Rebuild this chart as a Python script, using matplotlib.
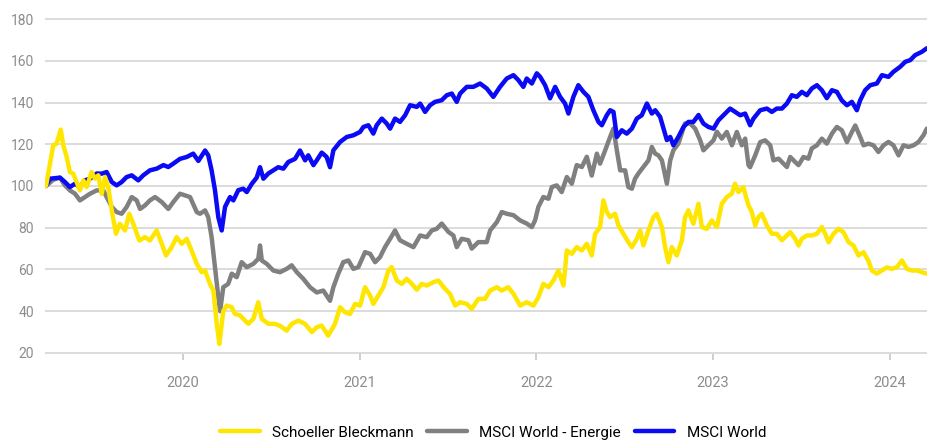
"""Index chart: Schoeller Bleckmann vs MSCI World and MSCI World Energy (start = 100)."""

import matplotlib

matplotlib.use("Agg")
import matplotlib.pyplot as plt

plt.rcParams["font.family"] = ["Roboto", "DejaVu Sans"]

# time axis in decimal years
sb_t = [2019.225, 2019.266, 2019.285, 2019.308, 2019.323, 2019.342, 2019.360, 2019.379, 2019.417, 2019.436,
        2019.455, 2019.483, 2019.502, 2019.521, 2019.540, 2019.559, 2019.577, 2019.597, 2019.621, 2019.643,
        2019.672, 2019.696, 2019.719, 2019.753, 2019.785, 2019.813, 2019.851, 2019.880, 2019.904, 2019.936,
        2019.964, 2019.993, 2020.021, 2020.049, 2020.078, 2020.106, 2020.125, 2020.153, 2020.172, 2020.191,
        2020.206, 2020.228, 2020.247, 2020.276, 2020.294, 2020.323, 2020.351, 2020.370, 2020.398, 2020.426,
        2020.446, 2020.483, 2020.521, 2020.549, 2020.587, 2020.615, 2020.653, 2020.691, 2020.729, 2020.757,
        2020.785, 2020.822, 2020.860, 2020.889, 2020.917, 2020.945, 2020.974, 2021.002, 2021.030, 2021.059,
        2021.077, 2021.105, 2021.134, 2021.162, 2021.181, 2021.210, 2021.238, 2021.266, 2021.295, 2021.323,
        2021.351, 2021.379, 2021.417, 2021.445, 2021.483, 2021.511, 2021.540, 2021.568, 2021.606, 2021.634,
        2021.671, 2021.709, 2021.738, 2021.776, 2021.804, 2021.841, 2021.870, 2021.908, 2021.945, 2021.983,
        2022.011, 2022.039, 2022.068, 2022.096, 2022.124, 2022.153, 2022.172, 2022.200, 2022.228, 2022.257,
        2022.285, 2022.313, 2022.332, 2022.360, 2022.379, 2022.398, 2022.417, 2022.445, 2022.464, 2022.492,
        2022.520, 2022.540, 2022.568, 2022.587, 2022.605, 2022.634, 2022.662, 2022.681, 2022.710, 2022.728,
        2022.747, 2022.766, 2022.794, 2022.823, 2022.841, 2022.860, 2022.888, 2022.917, 2022.936, 2022.964,
        2022.993, 2023.021, 2023.049, 2023.077, 2023.106, 2023.124, 2023.143, 2023.171, 2023.181, 2023.200,
        2023.219, 2023.238, 2023.256, 2023.275, 2023.304, 2023.332, 2023.360, 2023.389, 2023.417, 2023.436,
        2023.464, 2023.483, 2023.502, 2023.530, 2023.558, 2023.587, 2023.615, 2023.634, 2023.653, 2023.681,
        2023.709, 2023.737, 2023.766, 2023.794, 2023.822, 2023.851, 2023.879, 2023.898, 2023.926, 2023.955,
        2023.983, 2024.011, 2024.040, 2024.068, 2024.096, 2024.124, 2024.153, 2024.181, 2024.209]
sb_v = [100, 119.5, 120.3, 127, 119.5, 113.9, 106.7, 105.9, 97.9, 102.7,
        99.5, 106.7, 103.5, 105.1, 96.3, 104.3, 99.5, 88.3, 77.1, 81.9,
        78.7, 86.7, 81.9, 73.9, 75.5, 73.9, 78.7, 72.3, 66.7, 70.7,
        75.5, 72.3, 74.7, 69, 62.7, 58.7, 59.5, 53, 50, 34,
        24.3, 40, 42.7, 41.9, 38.7, 38, 35.5, 34, 36.3, 44.3,
        36.3, 34, 33.9, 33, 30.7, 33.9, 35.5, 33.9, 30, 32.3,
        33.1, 28.3, 33.9, 41.9, 39.5, 38.7, 43.5, 42.7, 51.5, 47.5,
        43.5, 47.5, 51.5, 59.5, 61.1, 54.7, 53.1, 55.5, 53.1, 50.3,
        53.1, 52.3, 53.9, 54.7, 50.7, 48.3, 42.7, 44.3, 43.5, 41.1,
        45.9, 45.9, 49.9, 51.5, 49.9, 51.5, 48.3, 42.7, 44.3, 42.7,
        46.7, 53.1, 51.5, 54.7, 59.5, 52.3, 69.1, 67.5, 70.7, 69.1,
        72.3, 66.7, 77.1, 80.3, 93.1, 87.5, 85.1, 86.7, 81.1, 77.1,
        73.1, 70.7, 74.7, 78.7, 71.5, 78.7, 85.1, 86.7, 80.3, 70.7,
        63.5, 70.7, 66.7, 73.9, 85.1, 88.3, 81.9, 91.5, 80.3, 79.5,
        83.5, 80.3, 91.5, 94.7, 96.3, 101.1, 97.1, 99.5, 96.3, 90.7,
        87.5, 81, 85.1, 86.7, 81.1, 77.1, 77.1, 74, 76.3, 77.9,
        74.7, 71.5, 74.7, 76.3, 76.3, 77.1, 80.3, 77.1, 73, 77.1,
        79.5, 77.9, 73.1, 71.5, 66.7, 68.3, 64, 59.5, 58, 59.5,
        61, 60.3, 61.1, 64.3, 60.3, 59.5, 59.5, 58.7, 58]

energy_t = [2019.225, 2019.266, 2019.304, 2019.332, 2019.360, 2019.389, 2019.417, 2019.445, 2019.474, 2019.512,
            2019.549, 2019.568, 2019.597, 2019.625, 2019.653, 2019.681, 2019.710, 2019.738, 2019.757, 2019.785,
            2019.813, 2019.842, 2019.880, 2019.917, 2019.945, 2019.983, 2020.040, 2020.078, 2020.096, 2020.125,
            2020.143, 2020.162, 2020.181, 2020.200, 2020.210, 2020.228, 2020.256, 2020.276, 2020.304, 2020.332,
            2020.361, 2020.398, 2020.426, 2020.436, 2020.446, 2020.474, 2020.511, 2020.549, 2020.587, 2020.615,
            2020.644, 2020.681, 2020.719, 2020.757, 2020.794, 2020.832, 2020.851, 2020.879, 2020.907, 2020.936,
            2020.964, 2020.992, 2021.030, 2021.059, 2021.087, 2021.115, 2021.143, 2021.172, 2021.200, 2021.228,
            2021.266, 2021.304, 2021.342, 2021.379, 2021.408, 2021.436, 2021.464, 2021.502, 2021.530, 2021.549,
            2021.577, 2021.615, 2021.634, 2021.671, 2021.719, 2021.738, 2021.776, 2021.804, 2021.832, 2021.870,
            2021.908, 2021.945, 2021.974, 2021.992, 2022.011, 2022.039, 2022.068, 2022.087, 2022.115, 2022.143,
            2022.172, 2022.200, 2022.228, 2022.257, 2022.285, 2022.313, 2022.342, 2022.360, 2022.389, 2022.417,
            2022.436, 2022.455, 2022.474, 2022.502, 2022.520, 2022.540, 2022.558, 2022.577, 2022.605, 2022.634,
            2022.653, 2022.672, 2022.690, 2022.710, 2022.738, 2022.757, 2022.775, 2022.803, 2022.841, 2022.870,
            2022.898, 2022.926, 2022.945, 2022.973, 2023.002, 2023.021, 2023.049, 2023.077, 2023.106, 2023.134,
            2023.162, 2023.181, 2023.200, 2023.209, 2023.238, 2023.266, 2023.294, 2023.323, 2023.341, 2023.370,
            2023.398, 2023.417, 2023.436, 2023.464, 2023.483, 2023.511, 2023.539, 2023.558, 2023.587, 2023.615,
            2023.643, 2023.672, 2023.700, 2023.728, 2023.757, 2023.785, 2023.804, 2023.832, 2023.851, 2023.879,
            2023.907, 2023.935, 2023.964, 2023.992, 2024.020, 2024.049, 2024.077, 2024.105, 2024.134, 2024.162,
            2024.190, 2024.209]
energy_v = [100, 103, 104, 100.3, 97.9, 96.3, 93.1, 94.7, 96.3, 97.9,
            97.9, 94.7, 90, 87.5, 86.7, 89.9, 94.7, 93.1, 89, 90.7,
            93.1, 94.7, 92.3, 89, 92.3, 96.3, 94.7, 87.5, 86.7, 88.3,
            85, 75.5, 61, 46.7, 40, 51.5, 53.1, 58, 56.3, 63.5,
            61.1, 62.7, 65.1, 71.5, 64.3, 62.7, 59.5, 58.7, 60.3, 62,
            58.7, 55.5, 51.5, 49, 49.9, 45, 51.5, 58, 63.5, 64.3,
            60.3, 61.1, 68.3, 67.5, 63.5, 65.9, 70.7, 74.7, 78.7, 74,
            72.3, 70.7, 76.3, 75.5, 78.7, 79.5, 82, 78, 76.3, 70.7,
            74.7, 74, 70, 73.1, 73.1, 78.7, 82.7, 87.5, 86.7, 86,
            83.5, 82, 80.3, 83.5, 90, 94.7, 93.9, 99.5, 100.3, 97.1,
            104.3, 101.1, 110, 109.1, 114, 105, 115.5, 110.7, 117.1, 123.5,
            127.5, 117.1, 107.5, 107.5, 99.5, 98.7, 103.5, 106, 109.1, 112.3,
            118.7, 115.5, 114.7, 112.3, 101.1, 112.3, 117.1, 120.3, 130, 129.9,
            127.5, 122, 117.1, 119.5, 121.9, 126, 122.7, 125.9, 119.5, 125.9,
            119.5, 122.7, 110, 109, 114.7, 121, 121.9, 119.5, 112.3, 113.1,
            110.7, 109.1, 113.9, 111.5, 110, 113.9, 113.1, 118, 119.5, 122.7,
            120.3, 125.1, 128.3, 126.7, 121, 125.9, 129, 123.5, 119.5, 120.3,
            119.5, 116.3, 119.5, 121.1, 119.5, 114.7, 119.5, 118.7, 119.5, 121.1,
            124.3, 127.5]

world_t = [2019.225, 2019.247, 2019.304, 2019.332, 2019.360, 2019.389, 2019.417, 2019.445, 2019.474, 2019.512,
           2019.540, 2019.568, 2019.597, 2019.625, 2019.653, 2019.681, 2019.710, 2019.747, 2019.775, 2019.813,
           2019.851, 2019.889, 2019.917, 2019.945, 2019.983, 2020.021, 2020.058, 2020.087, 2020.125, 2020.143,
           2020.162, 2020.181, 2020.200, 2020.219, 2020.238, 2020.266, 2020.285, 2020.313, 2020.341, 2020.361,
           2020.389, 2020.417, 2020.436, 2020.455, 2020.483, 2020.511, 2020.539, 2020.568, 2020.596, 2020.634,
           2020.662, 2020.691, 2020.709, 2020.738, 2020.757, 2020.785, 2020.813, 2020.832, 2020.851, 2020.889,
           2020.927, 2020.964, 2021.002, 2021.021, 2021.049, 2021.077, 2021.096, 2021.125, 2021.153, 2021.172,
           2021.200, 2021.228, 2021.257, 2021.285, 2021.323, 2021.342, 2021.370, 2021.398, 2021.426, 2021.464,
           2021.493, 2021.521, 2021.549, 2021.568, 2021.606, 2021.643, 2021.681, 2021.719, 2021.756, 2021.794,
           2021.832, 2021.870, 2021.898, 2021.926, 2021.945, 2021.974, 2022.002, 2022.021, 2022.049, 2022.077,
           2022.106, 2022.134, 2022.162, 2022.181, 2022.209, 2022.237, 2022.266, 2022.294, 2022.322, 2022.351,
           2022.370, 2022.398, 2022.417, 2022.436, 2022.455, 2022.483, 2022.511, 2022.540, 2022.568, 2022.596,
           2022.625, 2022.653, 2022.672, 2022.700, 2022.719, 2022.738, 2022.757, 2022.775, 2022.803, 2022.832,
           2022.860, 2022.888, 2022.917, 2022.945, 2022.973, 2023.002, 2023.030, 2023.058, 2023.096, 2023.124,
           2023.153, 2023.181, 2023.209, 2023.228, 2023.266, 2023.304, 2023.332, 2023.360, 2023.389, 2023.417,
           2023.445, 2023.473, 2023.502, 2023.530, 2023.558, 2023.587, 2023.615, 2023.643, 2023.672, 2023.700,
           2023.728, 2023.757, 2023.785, 2023.813, 2023.832, 2023.860, 2023.889, 2023.926, 2023.955, 2023.992,
           2024.020, 2024.058, 2024.087, 2024.115, 2024.143, 2024.181, 2024.209]
world_v = [100, 103.5, 104, 101.9, 99.5, 101.1, 99.5, 102.7, 103.5, 106,
           105.9, 106.7, 101.9, 100.3, 101.9, 104.3, 105.1, 102.7, 105.1, 107.5,
           108.3, 110, 109.1, 110.7, 113, 113.9, 115.5, 112, 117, 114.7,
           107.5, 98, 85, 78.7, 90, 94.7, 93.1, 98, 98.7, 97.1,
           101, 104, 109, 103.5, 106, 107.5, 109, 108.3, 111.5, 113,
           117, 112.3, 114.7, 110, 112.3, 116, 113.9, 109, 117.1, 121.1,
           123.5, 124.3, 125.9, 128.3, 129.1, 125.1, 129.1, 132.3, 129.9, 127.5,
           132.3, 130.7, 133.9, 138.7, 137.9, 139.5, 135.5, 138.7, 140.3, 141.1,
           143.5, 144.3, 140.3, 144.3, 147.5, 147.5, 149.1, 146.7, 142.7, 147.5,
           151.5, 153.1, 150.7, 147.5, 151.5, 149.1, 154, 152.3, 148.3, 142,
           147.5, 142.7, 139.5, 134.7, 142.7, 148.3, 145.1, 142.7, 136.3, 130.7,
           129.1, 133.9, 136.3, 135.5, 123.5, 126.7, 125.1, 127.5, 132.3, 133.9,
           139.5, 134.7, 136.3, 133.1, 127.5, 122, 123.5, 119.5, 123.5, 128.3,
           130.7, 130.7, 134, 129.9, 128.3, 127.5, 131.5, 133.9, 137.1, 135.5,
           133.9, 134.7, 129.1, 132.3, 136.3, 137.1, 135.5, 137.1, 137.1, 139.5,
           143.5, 142.7, 145.1, 143.5, 146.7, 148.3, 145.9, 142.1, 145.9, 145.1,
           141, 138.7, 140.3, 136.3, 141.1, 145.9, 148.3, 149.1, 153.1, 152.3,
           154.7, 157.1, 159.5, 160.3, 162.7, 164.3, 166]

year_ticks = [2020, 2021, 2022, 2023, 2024]
y_ticks = [20, 40, 60, 80, 100, 120, 140, 160, 180]
labels = ["Schoeller Bleckmann", "MSCI World - Energie", "MSCI World"]
colors = ["#FFE600", "#808080", "#0A0AF5"]

GRID = "#d9d9d9"
TICK_TEXT = "#8c8c8c"


def main():
    fig = plt.figure(figsize=(9.27, 4.43), dpi=100)
    ax = fig.add_axes([0.0485, 0.2009, 0.9515, 0.7585])

    series = [(sb_t, sb_v), (energy_t, energy_v), (world_t, world_v)]
    handles = []
    for (t, v), label, color, z in zip(series, labels, colors, [4, 2, 3]):
        (line,) = ax.plot(t, v, color=color, lw=3.2, label=label, zorder=z,
                          solid_joinstyle="round", solid_capstyle="round")
        handles.append(line)

    ax.set_xlim(2019.219, 2024.21)
    ax.set_ylim(19.5, 180.5)
    ax.set_yticks(y_ticks)
    ax.set_xticks(year_ticks)
    ax.set_xticklabels([str(y) for y in year_ticks])

    ax.grid(axis="y", color=GRID, lw=1.3, zorder=0)
    ax.set_axisbelow(True)
    for spine in ax.spines.values():
        spine.set_visible(False)

    ax.tick_params(axis="y", length=0, pad=8, labelsize=10, labelcolor=TICK_TEXT)
    ax.tick_params(axis="x", length=4, width=1.3, color="#cccccc", pad=12,
                   labelsize=10.5, labelcolor=TICK_TEXT)

    fig.legend(handles=handles, loc="center", bbox_to_anchor=(0.532, 0.023),
               ncol=3, frameon=False, fontsize=11, handlelength=2.6,
               handletextpad=0.8, columnspacing=0.9)

    fig.savefig("out.png", dpi=100)
    plt.close(fig)


if __name__ == "__main__":
    main()
